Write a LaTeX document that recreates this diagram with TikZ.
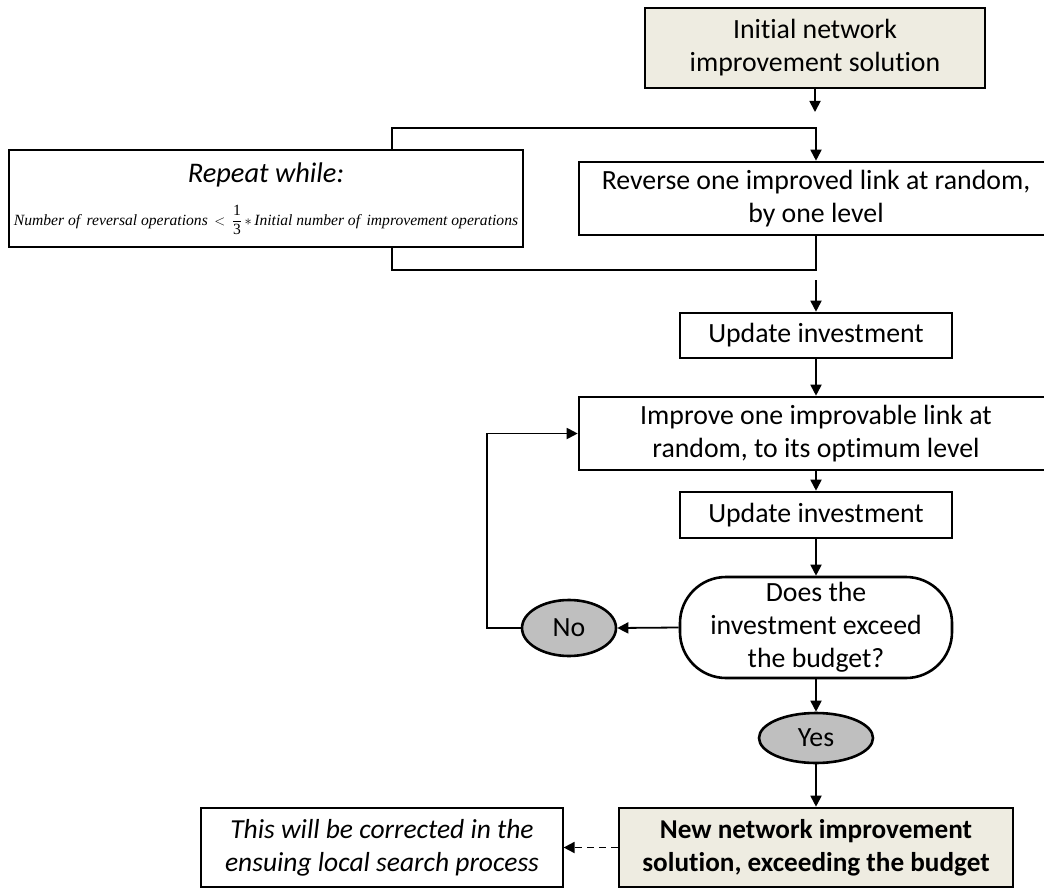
\documentclass[tikz,border=0pt]{standalone}
\usepackage{fontspec}
\setmainfont[Ligatures=NoCommon]{Carlito}
\newfontfamily\formulafont{Liberation Serif}
\usetikzlibrary{arrows.meta,shapes.geometric}

\definecolor{beige}{RGB}{238,236,225}
\definecolor{ovalgray}{RGB}{191,191,191}

\tikzset{
  base/.style={align=center, inner sep=0pt, font=\fontsize{27.8}{33}\selectfont},
  procbox/.style={base, draw, line width=2.6pt, rectangle},
  keybox/.style={procbox, fill=beige},
  notebox/.style={base, draw, line width=1.2pt, rectangle},
  decbox/.style={procbox, rounded corners=46pt},
  answer/.style={base, draw, line width=2.6pt, ellipse, fill=ovalgray},
  flow/.style={line width=1.8pt, -{Triangle[length=11pt,width=11pt]}},
  wire/.style={line width=1.8pt},
}

\begin{document}
\begin{tikzpicture}[x=1pt,y=-1pt]
  \useasboundingbox (0,0) rectangle (1044,888);
  \clip (0,0) rectangle (1044,888);

  % process boxes
  \node[keybox, minimum width=340pt, minimum height=80pt] (init) at (815,48)
    {Initial network\\improvement solution};
  \node[procbox, minimum width=474pt, minimum height=73pt] (reverse) at (816,198.5)
    {Reverse one improved link at random,\\by one level};
  \node[notebox, minimum width=514pt, minimum height=97pt] (repeat) at (266,198.5) {};
  \node[base, font=\fontsize{28.4}{32}\selectfont\itshape] (repeattitle) at (266,175) {Repeat while:};
  \node[base, font=\fontsize{15.6}{17}\selectfont\formulafont\itshape] (cond) at (266,220)
    {Number of\, reversal operations\, {\upshape$<$}\, $\displaystyle\frac{\textup{1}}{\textup{3}}$\,{\upshape$*$}\,Initial number of\, improvement operations};
  \node[procbox, minimum width=272pt, minimum height=45pt] (upd1) at (816,335.5) {Update investment};
  \node[procbox, minimum width=474pt, minimum height=73pt] (improve) at (816,433.5)
    {Improve one improvable link at\\random, to its optimum level};
  \node[procbox, minimum width=272pt, minimum height=46pt] (upd2) at (816,515) {Update investment};
  \node[decbox, minimum width=272pt, minimum height=101pt] (decide) at (816,627.5)
    {Does the\\investment exceed\\the budget?};
  \node[answer, minimum width=94pt, minimum height=56pt] (no) at (569,628) {No};
  \node[answer, minimum width=114pt, minimum height=50pt] (yes) at (816,738) {Yes};
  \node[keybox, minimum width=394pt, minimum height=79pt, font=\fontsize{27.2}{33}\selectfont\bfseries] (newsol) at (816,847.5)
    {New network improvement\\solution, exceeding the budget};
  \node[notebox, minimum width=362pt, minimum height=79pt, font=\fontsize{27.5}{33}\selectfont\itshape] (note) at (382,847.5)
    {This will be corrected in the\\ensuing local search process};

  % helper points
  \coordinate (inittip) at (815,112);
  \coordinate (looptop) at (392,128);
  \coordinate (loopbot) at (392,270);
  \coordinate (revout) at (816,280);
  \coordinate (noturn) at (487,628);

  % connectors
  \draw[flow] (init.south) -- (inittip);
  \draw[flow] (repeat.north -| looptop) -- (looptop) -| (reverse.north);
  \draw[wire] (reverse.south) |- (loopbot) -- (repeat.south -| loopbot);
  \draw[flow] (revout) -- (upd1.north);
  \draw[flow] (upd1.south) -- (improve.north);
  \draw[flow] (improve.south) -- (upd2.north);
  \draw[flow] (upd2.south) -- (decide.north);
  \draw[flow] (decide.west) -- (no.east);
  \draw[flow] (no.west) -- (noturn) |- (improve.west);
  \draw[flow] (decide.south) -- (yes.north);
  \draw[flow] (yes.south) -- (newsol.north);
  \draw[flow, dashed, dash pattern=on 7pt off 5pt] (newsol.west) -- (note.east);
\end{tikzpicture}
\end{document}
